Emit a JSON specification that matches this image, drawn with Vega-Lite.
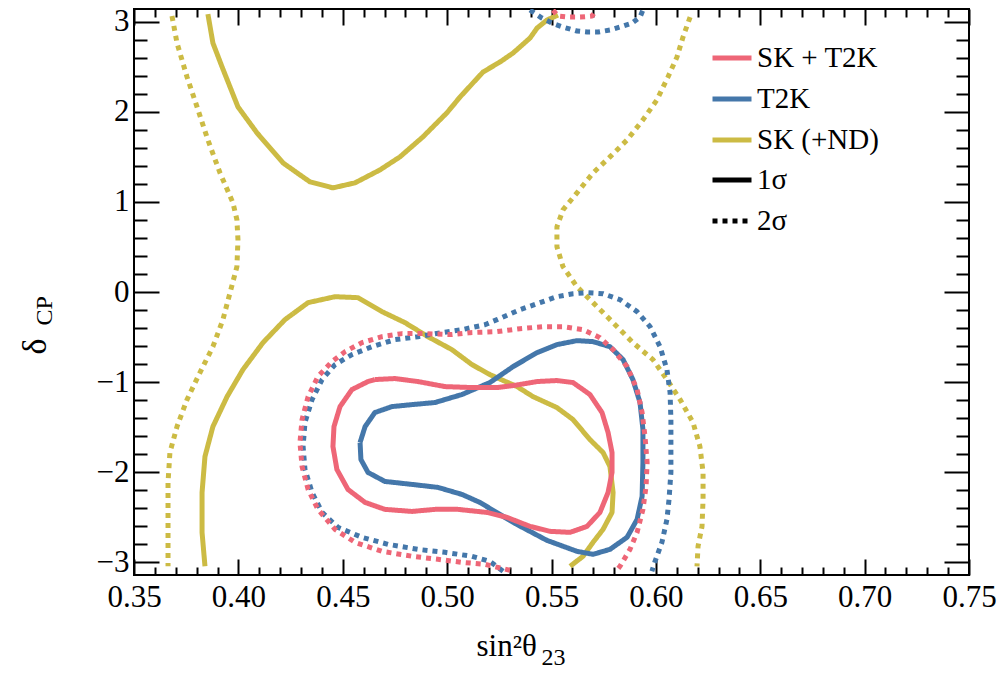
{
"$schema": "https://vega.github.io/schema/vega-lite/v6.json",
"width": 835, "height": 566,
"autosize": "none",
"padding": {"left": 134, "top": 9, "right": 33, "bottom": 101},
"background": "white",
"config": {
  "font": "Liberation Serif",
  "view": {"stroke": "black", "strokeWidth": 2},
  "axis": {"domain": false, "grid": false, "tickColor": "black", "tickWidth": 2, "labelColor": "black", "labelFont": "Liberation Serif", "labelFontSize": 31, "titleFont": "Liberation Serif", "titleFontWeight": "normal", "titleColor": "black", "labelOverlap": false, "labelFlush": false},
  "legend": {"padding": 0, "titleFontSize": 0, "labelFont": "Liberation Serif", "labelFontSize": 29, "labelColor": "black", "symbolType": "stroke", "symbolStrokeWidth": 5, "symbolSize": 1521, "rowPadding": 4, "labelOffset": 3}
},
"data": {"values": [
{"e":"SK (+ND)","s":"2σ","p":"g2a","i":0,"x":0.3682,"y":3.063},
{"e":"SK (+ND)","s":"2σ","p":"g2a","i":1,"x":0.3706,"y":2.764},
{"e":"SK (+ND)","s":"2σ","p":"g2a","i":2,"x":0.3754,"y":2.387},
{"e":"SK (+ND)","s":"2σ","p":"g2a","i":3,"x":0.3802,"y":2.055},
{"e":"SK (+ND)","s":"2σ","p":"g2a","i":4,"x":0.3854,"y":1.688},
{"e":"SK (+ND)","s":"2σ","p":"g2a","i":5,"x":0.3912,"y":1.322},
{"e":"SK (+ND)","s":"2σ","p":"g2a","i":6,"x":0.3974,"y":0.990},
{"e":"SK (+ND)","s":"2σ","p":"g2a","i":7,"x":0.3993,"y":0.802},
{"e":"SK (+ND)","s":"2σ","p":"g2a","i":8,"x":0.3998,"y":0.580},
{"e":"SK (+ND)","s":"2σ","p":"g2a","i":9,"x":0.3993,"y":0.281},
{"e":"SK (+ND)","s":"2σ","p":"g2a","i":10,"x":0.3960,"y":-0.008},
{"e":"SK (+ND)","s":"2σ","p":"g2a","i":11,"x":0.3926,"y":-0.307},
{"e":"SK (+ND)","s":"2σ","p":"g2a","i":12,"x":0.3878,"y":-0.607},
{"e":"SK (+ND)","s":"2σ","p":"g2a","i":13,"x":0.3816,"y":-0.895},
{"e":"SK (+ND)","s":"2σ","p":"g2a","i":14,"x":0.3754,"y":-1.194},
{"e":"SK (+ND)","s":"2σ","p":"g2a","i":15,"x":0.3706,"y":-1.494},
{"e":"SK (+ND)","s":"2σ","p":"g2a","i":16,"x":0.3672,"y":-1.782},
{"e":"SK (+ND)","s":"2σ","p":"g2a","i":17,"x":0.3663,"y":-2.114},
{"e":"SK (+ND)","s":"2σ","p":"g2a","i":18,"x":0.3663,"y":-2.447},
{"e":"SK (+ND)","s":"2σ","p":"g2a","i":19,"x":0.3663,"y":-2.746},
{"e":"SK (+ND)","s":"2σ","p":"g2a","i":20,"x":0.3663,"y":-3.045},
{"e":"SK (+ND)","s":"2σ","p":"g2b","i":0,"x":0.6164,"y":3.052},
{"e":"SK (+ND)","s":"2σ","p":"g2b","i":1,"x":0.6130,"y":2.830},
{"e":"SK (+ND)","s":"2σ","p":"g2b","i":2,"x":0.6101,"y":2.608},
{"e":"SK (+ND)","s":"2σ","p":"g2b","i":3,"x":0.6058,"y":2.387},
{"e":"SK (+ND)","s":"2σ","p":"g2b","i":4,"x":0.6005,"y":2.132},
{"e":"SK (+ND)","s":"2σ","p":"g2b","i":5,"x":0.5938,"y":1.911},
{"e":"SK (+ND)","s":"2σ","p":"g2b","i":6,"x":0.5862,"y":1.688},
{"e":"SK (+ND)","s":"2σ","p":"g2b","i":7,"x":0.5780,"y":1.500},
{"e":"SK (+ND)","s":"2σ","p":"g2b","i":8,"x":0.5699,"y":1.322},
{"e":"SK (+ND)","s":"2σ","p":"g2b","i":9,"x":0.5622,"y":1.101},
{"e":"SK (+ND)","s":"2σ","p":"g2b","i":10,"x":0.5555,"y":0.912},
{"e":"SK (+ND)","s":"2σ","p":"g2b","i":11,"x":0.5526,"y":0.724},
{"e":"SK (+ND)","s":"2σ","p":"g2b","i":12,"x":0.5526,"y":0.502},
{"e":"SK (+ND)","s":"2σ","p":"g2b","i":13,"x":0.5555,"y":0.281},
{"e":"SK (+ND)","s":"2σ","p":"g2b","i":14,"x":0.5622,"y":0.059},
{"e":"SK (+ND)","s":"2σ","p":"g2b","i":15,"x":0.5699,"y":-0.118},
{"e":"SK (+ND)","s":"2σ","p":"g2b","i":16,"x":0.5795,"y":-0.340},
{"e":"SK (+ND)","s":"2σ","p":"g2b","i":17,"x":0.5890,"y":-0.562},
{"e":"SK (+ND)","s":"2σ","p":"g2b","i":18,"x":0.5986,"y":-0.751},
{"e":"SK (+ND)","s":"2σ","p":"g2b","i":19,"x":0.6053,"y":-0.972},
{"e":"SK (+ND)","s":"2σ","p":"g2b","i":20,"x":0.6116,"y":-1.194},
{"e":"SK (+ND)","s":"2σ","p":"g2b","i":21,"x":0.6178,"y":-1.449},
{"e":"SK (+ND)","s":"2σ","p":"g2b","i":22,"x":0.6211,"y":-1.715},
{"e":"SK (+ND)","s":"2σ","p":"g2b","i":23,"x":0.6226,"y":-2.003},
{"e":"SK (+ND)","s":"2σ","p":"g2b","i":24,"x":0.6226,"y":-2.303},
{"e":"SK (+ND)","s":"2σ","p":"g2b","i":25,"x":0.6221,"y":-2.602},
{"e":"SK (+ND)","s":"2σ","p":"g2b","i":26,"x":0.6202,"y":-2.823},
{"e":"SK (+ND)","s":"2σ","p":"g2b","i":27,"x":0.6197,"y":-3.045},
{"e":"SK (+ND)","s":"1σ","p":"g1a","i":0,"x":0.3854,"y":3.085},
{"e":"SK (+ND)","s":"1σ","p":"g1a","i":1,"x":0.3878,"y":2.764},
{"e":"SK (+ND)","s":"1σ","p":"g1a","i":2,"x":0.3922,"y":2.498},
{"e":"SK (+ND)","s":"1σ","p":"g1a","i":3,"x":0.3998,"y":2.055},
{"e":"SK (+ND)","s":"1σ","p":"g1a","i":4,"x":0.4089,"y":1.767},
{"e":"SK (+ND)","s":"1σ","p":"g1a","i":5,"x":0.4214,"y":1.433},
{"e":"SK (+ND)","s":"1σ","p":"g1a","i":6,"x":0.4295,"y":1.300},
{"e":"SK (+ND)","s":"1σ","p":"g1a","i":7,"x":0.4343,"y":1.223},
{"e":"SK (+ND)","s":"1σ","p":"g1a","i":8,"x":0.4453,"y":1.156},
{"e":"SK (+ND)","s":"1σ","p":"g1a","i":9,"x":0.4559,"y":1.212},
{"e":"SK (+ND)","s":"1σ","p":"g1a","i":10,"x":0.4678,"y":1.355},
{"e":"SK (+ND)","s":"1σ","p":"g1a","i":11,"x":0.4774,"y":1.500},
{"e":"SK (+ND)","s":"1σ","p":"g1a","i":12,"x":0.4884,"y":1.722},
{"e":"SK (+ND)","s":"1σ","p":"g1a","i":13,"x":0.4999,"y":1.989},
{"e":"SK (+ND)","s":"1σ","p":"g1a","i":14,"x":0.5062,"y":2.165},
{"e":"SK (+ND)","s":"1σ","p":"g1a","i":15,"x":0.5172,"y":2.442},
{"e":"SK (+ND)","s":"1σ","p":"g1a","i":16,"x":0.5253,"y":2.553},
{"e":"SK (+ND)","s":"1σ","p":"g1a","i":17,"x":0.5316,"y":2.653},
{"e":"SK (+ND)","s":"1σ","p":"g1a","i":18,"x":0.5397,"y":2.819},
{"e":"SK (+ND)","s":"1σ","p":"g1a","i":19,"x":0.5431,"y":2.930},
{"e":"SK (+ND)","s":"1σ","p":"g1a","i":20,"x":0.5478,"y":3.019},
{"e":"SK (+ND)","s":"1σ","p":"g1a","i":21,"x":0.5531,"y":3.074},
{"e":"SK (+ND)","s":"1σ","p":"g1b","i":0,"x":0.3840,"y":-3.045},
{"e":"SK (+ND)","s":"1σ","p":"g1b","i":1,"x":0.3826,"y":-2.668},
{"e":"SK (+ND)","s":"1σ","p":"g1b","i":2,"x":0.3826,"y":-2.225},
{"e":"SK (+ND)","s":"1σ","p":"g1b","i":3,"x":0.3840,"y":-1.826},
{"e":"SK (+ND)","s":"1σ","p":"g1b","i":4,"x":0.3878,"y":-1.494},
{"e":"SK (+ND)","s":"1σ","p":"g1b","i":5,"x":0.3946,"y":-1.161},
{"e":"SK (+ND)","s":"1σ","p":"g1b","i":6,"x":0.4022,"y":-0.861},
{"e":"SK (+ND)","s":"1σ","p":"g1b","i":7,"x":0.4118,"y":-0.562},
{"e":"SK (+ND)","s":"1σ","p":"g1b","i":8,"x":0.4223,"y":-0.307},
{"e":"SK (+ND)","s":"1σ","p":"g1b","i":9,"x":0.4334,"y":-0.118},
{"e":"SK (+ND)","s":"1σ","p":"g1b","i":10,"x":0.4463,"y":-0.052},
{"e":"SK (+ND)","s":"1σ","p":"g1b","i":11,"x":0.4573,"y":-0.063},
{"e":"SK (+ND)","s":"1σ","p":"g1b","i":12,"x":0.4688,"y":-0.218},
{"e":"SK (+ND)","s":"1σ","p":"g1b","i":13,"x":0.4798,"y":-0.340},
{"e":"SK (+ND)","s":"1σ","p":"g1b","i":14,"x":0.4908,"y":-0.496},
{"e":"SK (+ND)","s":"1σ","p":"g1b","i":15,"x":0.5023,"y":-0.640},
{"e":"SK (+ND)","s":"1σ","p":"g1b","i":16,"x":0.5119,"y":-0.806},
{"e":"SK (+ND)","s":"1σ","p":"g1b","i":17,"x":0.5205,"y":-0.917},
{"e":"SK (+ND)","s":"1σ","p":"g1b","i":18,"x":0.5335,"y":-1.050},
{"e":"SK (+ND)","s":"1σ","p":"g1b","i":19,"x":0.5411,"y":-1.161},
{"e":"SK (+ND)","s":"1σ","p":"g1b","i":20,"x":0.5526,"y":-1.283},
{"e":"SK (+ND)","s":"1σ","p":"g1b","i":21,"x":0.5603,"y":-1.416},
{"e":"SK (+ND)","s":"1σ","p":"g1b","i":22,"x":0.5684,"y":-1.638},
{"e":"SK (+ND)","s":"1σ","p":"g1b","i":23,"x":0.5747,"y":-1.782},
{"e":"SK (+ND)","s":"1σ","p":"g1b","i":24,"x":0.5780,"y":-1.937},
{"e":"SK (+ND)","s":"1σ","p":"g1b","i":25,"x":0.5795,"y":-2.225},
{"e":"SK (+ND)","s":"1σ","p":"g1b","i":26,"x":0.5790,"y":-2.447},
{"e":"SK (+ND)","s":"1σ","p":"g1b","i":27,"x":0.5747,"y":-2.635},
{"e":"SK (+ND)","s":"1σ","p":"g1b","i":28,"x":0.5699,"y":-2.779},
{"e":"SK (+ND)","s":"1σ","p":"g1b","i":29,"x":0.5651,"y":-2.934},
{"e":"SK (+ND)","s":"1σ","p":"g1b","i":30,"x":0.5589,"y":-3.045},
{"e":"T2K","s":"2σ","p":"b2a","i":0,"x":0.5268,"y":-3.100},
{"e":"T2K","s":"2σ","p":"b2a","i":1,"x":0.5205,"y":-2.990},
{"e":"T2K","s":"2σ","p":"b2a","i":2,"x":0.5119,"y":-2.934},
{"e":"T2K","s":"2σ","p":"b2a","i":3,"x":0.4990,"y":-2.890},
{"e":"T2K","s":"2σ","p":"b2a","i":4,"x":0.4860,"y":-2.857},
{"e":"T2K","s":"2σ","p":"b2a","i":5,"x":0.4717,"y":-2.801},
{"e":"T2K","s":"2σ","p":"b2a","i":6,"x":0.4592,"y":-2.723},
{"e":"T2K","s":"2σ","p":"b2a","i":7,"x":0.4477,"y":-2.613},
{"e":"T2K","s":"2σ","p":"b2a","i":8,"x":0.4401,"y":-2.447},
{"e":"T2K","s":"2σ","p":"b2a","i":9,"x":0.4353,"y":-2.225},
{"e":"T2K","s":"2σ","p":"b2a","i":10,"x":0.4319,"y":-1.970},
{"e":"T2K","s":"2σ","p":"b2a","i":11,"x":0.4310,"y":-1.715},
{"e":"T2K","s":"2σ","p":"b2a","i":12,"x":0.4319,"y":-1.449},
{"e":"T2K","s":"2σ","p":"b2a","i":13,"x":0.4353,"y":-1.194},
{"e":"T2K","s":"2σ","p":"b2a","i":14,"x":0.4401,"y":-0.972},
{"e":"T2K","s":"2σ","p":"b2a","i":15,"x":0.4463,"y":-0.806},
{"e":"T2K","s":"2σ","p":"b2a","i":16,"x":0.4544,"y":-0.695},
{"e":"T2K","s":"2σ","p":"b2a","i":17,"x":0.4640,"y":-0.607},
{"e":"T2K","s":"2σ","p":"b2a","i":18,"x":0.4750,"y":-0.529},
{"e":"T2K","s":"2σ","p":"b2a","i":19,"x":0.4860,"y":-0.496},
{"e":"T2K","s":"2σ","p":"b2a","i":20,"x":0.4975,"y":-0.451},
{"e":"T2K","s":"2σ","p":"b2a","i":21,"x":0.5071,"y":-0.418},
{"e":"T2K","s":"2σ","p":"b2a","i":22,"x":0.5181,"y":-0.363},
{"e":"T2K","s":"2σ","p":"b2a","i":23,"x":0.5239,"y":-0.307},
{"e":"T2K","s":"2σ","p":"b2a","i":24,"x":0.5349,"y":-0.196},
{"e":"T2K","s":"2σ","p":"b2a","i":25,"x":0.5445,"y":-0.118},
{"e":"T2K","s":"2σ","p":"b2a","i":26,"x":0.5526,"y":-0.052},
{"e":"T2K","s":"2σ","p":"b2a","i":27,"x":0.5603,"y":-0.019},
{"e":"T2K","s":"2σ","p":"b2a","i":28,"x":0.5670,"y":-0.008},
{"e":"T2K","s":"2σ","p":"b2a","i":29,"x":0.5747,"y":-0.019},
{"e":"T2K","s":"2σ","p":"b2a","i":30,"x":0.5828,"y":-0.085},
{"e":"T2K","s":"2σ","p":"b2a","i":31,"x":0.5910,"y":-0.218},
{"e":"T2K","s":"2σ","p":"b2a","i":32,"x":0.5972,"y":-0.385},
{"e":"T2K","s":"2σ","p":"b2a","i":33,"x":0.6020,"y":-0.607},
{"e":"T2K","s":"2σ","p":"b2a","i":34,"x":0.6053,"y":-0.861},
{"e":"T2K","s":"2σ","p":"b2a","i":35,"x":0.6068,"y":-1.116},
{"e":"T2K","s":"2σ","p":"b2a","i":36,"x":0.6072,"y":-1.416},
{"e":"T2K","s":"2σ","p":"b2a","i":37,"x":0.6072,"y":-1.715},
{"e":"T2K","s":"2σ","p":"b2a","i":38,"x":0.6072,"y":-2.003},
{"e":"T2K","s":"2σ","p":"b2a","i":39,"x":0.6063,"y":-2.303},
{"e":"T2K","s":"2σ","p":"b2a","i":40,"x":0.6053,"y":-2.524},
{"e":"T2K","s":"2σ","p":"b2a","i":41,"x":0.6029,"y":-2.779},
{"e":"T2K","s":"2σ","p":"b2a","i":42,"x":0.5996,"y":-2.990},
{"e":"T2K","s":"2σ","p":"b2a","i":43,"x":0.5981,"y":-3.100},
{"e":"T2K","s":"2σ","p":"b2b","i":0,"x":0.5397,"y":3.130},
{"e":"T2K","s":"2σ","p":"b2b","i":1,"x":0.5454,"y":3.041},
{"e":"T2K","s":"2σ","p":"b2b","i":2,"x":0.5502,"y":2.985},
{"e":"T2K","s":"2σ","p":"b2b","i":3,"x":0.5555,"y":2.941},
{"e":"T2K","s":"2σ","p":"b2b","i":4,"x":0.5622,"y":2.897},
{"e":"T2K","s":"2σ","p":"b2b","i":5,"x":0.5670,"y":2.886},
{"e":"T2K","s":"2σ","p":"b2b","i":6,"x":0.5723,"y":2.886},
{"e":"T2K","s":"2σ","p":"b2b","i":7,"x":0.5780,"y":2.908},
{"e":"T2K","s":"2σ","p":"b2b","i":8,"x":0.5828,"y":2.941},
{"e":"T2K","s":"2σ","p":"b2b","i":9,"x":0.5886,"y":2.985},
{"e":"T2K","s":"2σ","p":"b2b","i":10,"x":0.5924,"y":3.052},
{"e":"T2K","s":"2σ","p":"b2b","i":11,"x":0.5938,"y":3.130},
{"e":"T2K","s":"1σ","p":"b1","i":0,"x":0.4583,"y":-1.671},
{"e":"T2K","s":"1σ","p":"b1","i":1,"x":0.4607,"y":-1.494},
{"e":"T2K","s":"1σ","p":"b1","i":2,"x":0.4654,"y":-1.338},
{"e":"T2K","s":"1σ","p":"b1","i":3,"x":0.4736,"y":-1.272},
{"e":"T2K","s":"1σ","p":"b1","i":4,"x":0.4832,"y":-1.250},
{"e":"T2K","s":"1σ","p":"b1","i":5,"x":0.4942,"y":-1.227},
{"e":"T2K","s":"1σ","p":"b1","i":6,"x":0.5071,"y":-1.138},
{"e":"T2K","s":"1σ","p":"b1","i":7,"x":0.5205,"y":-1.005},
{"e":"T2K","s":"1σ","p":"b1","i":8,"x":0.5316,"y":-0.828},
{"e":"T2K","s":"1σ","p":"b1","i":9,"x":0.5431,"y":-0.673},
{"e":"T2K","s":"1σ","p":"b1","i":10,"x":0.5526,"y":-0.584},
{"e":"T2K","s":"1σ","p":"b1","i":11,"x":0.5622,"y":-0.540},
{"e":"T2K","s":"1σ","p":"b1","i":12,"x":0.5699,"y":-0.551},
{"e":"T2K","s":"1σ","p":"b1","i":13,"x":0.5780,"y":-0.607},
{"e":"T2K","s":"1σ","p":"b1","i":14,"x":0.5843,"y":-0.751},
{"e":"T2K","s":"1σ","p":"b1","i":15,"x":0.5890,"y":-0.972},
{"e":"T2K","s":"1σ","p":"b1","i":16,"x":0.5924,"y":-1.227},
{"e":"T2K","s":"1σ","p":"b1","i":17,"x":0.5938,"y":-1.527},
{"e":"T2K","s":"1σ","p":"b1","i":18,"x":0.5938,"y":-1.893},
{"e":"T2K","s":"1σ","p":"b1","i":19,"x":0.5934,"y":-2.269},
{"e":"T2K","s":"1σ","p":"b1","i":20,"x":0.5910,"y":-2.524},
{"e":"T2K","s":"1σ","p":"b1","i":21,"x":0.5862,"y":-2.723},
{"e":"T2K","s":"1σ","p":"b1","i":22,"x":0.5780,"y":-2.857},
{"e":"T2K","s":"1σ","p":"b1","i":23,"x":0.5699,"y":-2.912},
{"e":"T2K","s":"1σ","p":"b1","i":24,"x":0.5622,"y":-2.879},
{"e":"T2K","s":"1σ","p":"b1","i":25,"x":0.5478,"y":-2.757},
{"e":"T2K","s":"1σ","p":"b1","i":26,"x":0.5325,"y":-2.569},
{"e":"T2K","s":"1σ","p":"b1","i":27,"x":0.5157,"y":-2.336},
{"e":"T2K","s":"1σ","p":"b1","i":28,"x":0.5071,"y":-2.247},
{"e":"T2K","s":"1σ","p":"b1","i":29,"x":0.4956,"y":-2.169},
{"e":"T2K","s":"1σ","p":"b1","i":30,"x":0.4832,"y":-2.136},
{"e":"T2K","s":"1σ","p":"b1","i":31,"x":0.4702,"y":-2.103},
{"e":"T2K","s":"1σ","p":"b1","i":32,"x":0.4621,"y":-2.003},
{"e":"T2K","s":"1σ","p":"b1","i":33,"x":0.4587,"y":-1.859},
{"e":"T2K","s":"1σ","p":"b1","i":34,"x":0.4583,"y":-1.671},
{"e":"SK + T2K","s":"2σ","p":"p2a","i":0,"x":0.5301,"y":-3.090},
{"e":"SK + T2K","s":"2σ","p":"p2a","i":1,"x":0.5181,"y":-3.023},
{"e":"SK + T2K","s":"2σ","p":"p2a","i":2,"x":0.5071,"y":-3.001},
{"e":"SK + T2K","s":"2σ","p":"p2a","i":3,"x":0.4956,"y":-2.967},
{"e":"SK + T2K","s":"2σ","p":"p2a","i":4,"x":0.4832,"y":-2.934},
{"e":"SK + T2K","s":"2σ","p":"p2a","i":5,"x":0.4688,"y":-2.879},
{"e":"SK + T2K","s":"2σ","p":"p2a","i":6,"x":0.4559,"y":-2.779},
{"e":"SK + T2K","s":"2σ","p":"p2a","i":7,"x":0.4463,"y":-2.635},
{"e":"SK + T2K","s":"2σ","p":"p2a","i":8,"x":0.4381,"y":-2.413},
{"e":"SK + T2K","s":"2σ","p":"p2a","i":9,"x":0.4334,"y":-2.192},
{"e":"SK + T2K","s":"2σ","p":"p2a","i":10,"x":0.4305,"y":-1.937},
{"e":"SK + T2K","s":"2σ","p":"p2a","i":11,"x":0.4295,"y":-1.671},
{"e":"SK + T2K","s":"2σ","p":"p2a","i":12,"x":0.4305,"y":-1.416},
{"e":"SK + T2K","s":"2σ","p":"p2a","i":13,"x":0.4334,"y":-1.161},
{"e":"SK + T2K","s":"2σ","p":"p2a","i":14,"x":0.4381,"y":-0.939},
{"e":"SK + T2K","s":"2σ","p":"p2a","i":15,"x":0.4448,"y":-0.773},
{"e":"SK + T2K","s":"2σ","p":"p2a","i":16,"x":0.4511,"y":-0.662},
{"e":"SK + T2K","s":"2σ","p":"p2a","i":17,"x":0.4592,"y":-0.562},
{"e":"SK + T2K","s":"2σ","p":"p2a","i":18,"x":0.4688,"y":-0.496},
{"e":"SK + T2K","s":"2σ","p":"p2a","i":19,"x":0.4784,"y":-0.462},
{"e":"SK + T2K","s":"2σ","p":"p2a","i":20,"x":0.4894,"y":-0.462},
{"e":"SK + T2K","s":"2σ","p":"p2a","i":21,"x":0.5023,"y":-0.473},
{"e":"SK + T2K","s":"2σ","p":"p2a","i":22,"x":0.5110,"y":-0.451},
{"e":"SK + T2K","s":"2σ","p":"p2a","i":23,"x":0.5239,"y":-0.440},
{"e":"SK + T2K","s":"2σ","p":"p2a","i":24,"x":0.5349,"y":-0.407},
{"e":"SK + T2K","s":"2σ","p":"p2a","i":25,"x":0.5459,"y":-0.385},
{"e":"SK + T2K","s":"2σ","p":"p2a","i":26,"x":0.5555,"y":-0.385},
{"e":"SK + T2K","s":"2σ","p":"p2a","i":27,"x":0.5651,"y":-0.418},
{"e":"SK + T2K","s":"2σ","p":"p2a","i":28,"x":0.5732,"y":-0.507},
{"e":"SK + T2K","s":"2σ","p":"p2a","i":29,"x":0.5795,"y":-0.640},
{"e":"SK + T2K","s":"2σ","p":"p2a","i":30,"x":0.5862,"y":-0.828},
{"e":"SK + T2K","s":"2σ","p":"p2a","i":31,"x":0.5910,"y":-1.083},
{"e":"SK + T2K","s":"2σ","p":"p2a","i":32,"x":0.5934,"y":-1.338},
{"e":"SK + T2K","s":"2σ","p":"p2a","i":33,"x":0.5948,"y":-1.604},
{"e":"SK + T2K","s":"2σ","p":"p2a","i":34,"x":0.5958,"y":-1.893},
{"e":"SK + T2K","s":"2σ","p":"p2a","i":35,"x":0.5953,"y":-2.158},
{"e":"SK + T2K","s":"2σ","p":"p2a","i":36,"x":0.5938,"y":-2.413},
{"e":"SK + T2K","s":"2σ","p":"p2a","i":37,"x":0.5910,"y":-2.668},
{"e":"SK + T2K","s":"2σ","p":"p2a","i":38,"x":0.5876,"y":-2.857},
{"e":"SK + T2K","s":"2σ","p":"p2a","i":39,"x":0.5828,"y":-3.045},
{"e":"SK + T2K","s":"2σ","p":"p2a","i":40,"x":0.5809,"y":-3.100},
{"e":"SK + T2K","s":"2σ","p":"p2b","i":0,"x":0.5507,"y":3.130},
{"e":"SK + T2K","s":"2σ","p":"p2b","i":1,"x":0.5531,"y":3.063},
{"e":"SK + T2K","s":"2σ","p":"p2b","i":2,"x":0.5579,"y":3.052},
{"e":"SK + T2K","s":"2σ","p":"p2b","i":3,"x":0.5637,"y":3.052},
{"e":"SK + T2K","s":"2σ","p":"p2b","i":4,"x":0.5694,"y":3.063},
{"e":"SK + T2K","s":"2σ","p":"p2b","i":5,"x":0.5713,"y":3.130},
{"e":"SK + T2K","s":"1σ","p":"p1","i":0,"x":0.4654,"y":-0.972},
{"e":"SK + T2K","s":"1σ","p":"p1","i":1,"x":0.4750,"y":-0.961},
{"e":"SK + T2K","s":"1σ","p":"p1","i":2,"x":0.4860,"y":-0.994},
{"e":"SK + T2K","s":"1σ","p":"p1","i":3,"x":0.4990,"y":-1.050},
{"e":"SK + T2K","s":"1σ","p":"p1","i":4,"x":0.5119,"y":-1.061},
{"e":"SK + T2K","s":"1σ","p":"p1","i":5,"x":0.5239,"y":-1.061},
{"e":"SK + T2K","s":"1σ","p":"p1","i":6,"x":0.5316,"y":-1.039},
{"e":"SK + T2K","s":"1σ","p":"p1","i":7,"x":0.5431,"y":-0.994},
{"e":"SK + T2K","s":"1σ","p":"p1","i":8,"x":0.5526,"y":-0.983},
{"e":"SK + T2K","s":"1σ","p":"p1","i":9,"x":0.5603,"y":-1.005},
{"e":"SK + T2K","s":"1σ","p":"p1","i":10,"x":0.5684,"y":-1.138},
{"e":"SK + T2K","s":"1σ","p":"p1","i":11,"x":0.5742,"y":-1.338},
{"e":"SK + T2K","s":"1σ","p":"p1","i":12,"x":0.5771,"y":-1.560},
{"e":"SK + T2K","s":"1σ","p":"p1","i":13,"x":0.5790,"y":-1.782},
{"e":"SK + T2K","s":"1σ","p":"p1","i":14,"x":0.5790,"y":-2.003},
{"e":"SK + T2K","s":"1σ","p":"p1","i":15,"x":0.5771,"y":-2.225},
{"e":"SK + T2K","s":"1σ","p":"p1","i":16,"x":0.5732,"y":-2.447},
{"e":"SK + T2K","s":"1σ","p":"p1","i":17,"x":0.5670,"y":-2.602},
{"e":"SK + T2K","s":"1σ","p":"p1","i":18,"x":0.5589,"y":-2.668},
{"e":"SK + T2K","s":"1σ","p":"p1","i":19,"x":0.5493,"y":-2.657},
{"e":"SK + T2K","s":"1σ","p":"p1","i":20,"x":0.5397,"y":-2.602},
{"e":"SK + T2K","s":"1σ","p":"p1","i":21,"x":0.5287,"y":-2.502},
{"e":"SK + T2K","s":"1σ","p":"p1","i":22,"x":0.5191,"y":-2.447},
{"e":"SK + T2K","s":"1σ","p":"p1","i":23,"x":0.5052,"y":-2.413},
{"e":"SK + T2K","s":"1σ","p":"p1","i":24,"x":0.4942,"y":-2.413},
{"e":"SK + T2K","s":"1σ","p":"p1","i":25,"x":0.4832,"y":-2.436},
{"e":"SK + T2K","s":"1σ","p":"p1","i":26,"x":0.4702,"y":-2.413},
{"e":"SK + T2K","s":"1σ","p":"p1","i":27,"x":0.4607,"y":-2.336},
{"e":"SK + T2K","s":"1σ","p":"p1","i":28,"x":0.4525,"y":-2.192},
{"e":"SK + T2K","s":"1σ","p":"p1","i":29,"x":0.4472,"y":-1.970},
{"e":"SK + T2K","s":"1σ","p":"p1","i":30,"x":0.4453,"y":-1.715},
{"e":"SK + T2K","s":"1σ","p":"p1","i":31,"x":0.4458,"y":-1.494},
{"e":"SK + T2K","s":"1σ","p":"p1","i":32,"x":0.4487,"y":-1.272},
{"e":"SK + T2K","s":"1σ","p":"p1","i":33,"x":0.4544,"y":-1.083},
{"e":"SK + T2K","s":"1σ","p":"p1","i":34,"x":0.4621,"y":-0.994},
{"e":"SK + T2K","s":"1σ","p":"p1","i":35,"x":0.4654,"y":-0.972}
]},
"layer": [
  {
    "mark": {"type": "line", "strokeWidth": 5, "strokeCap": "butt", "strokeJoin": "round", "clip": true},
    "encoding": {
      "x": {"field": "x", "type": "quantitative", "scale": {"domain": [0.35, 0.75], "nice": false, "zero": false},
        "axis": {"orient": "bottom",
          "values": [0.35,0.36,0.37,0.38,0.39,0.4,0.41,0.42,0.43,0.44,0.45,0.46,0.47,0.48,0.49,0.5,0.51,0.52,0.53,0.54,0.55,0.56,0.57,0.58,0.59,0.6,0.61,0.62,0.63,0.64,0.65,0.66,0.67,0.68,0.69,0.7,0.71,0.72,0.73,0.74,0.75],
          "tickSize": {"condition": {"test": "abs(datum.value*20-round(datum.value*20))<0.01", "value": -16}, "value": -8},
          "labelExpr": "abs(datum.value*20-round(datum.value*20))<0.01 ? format(datum.value, '.2f') : ''",
          "labelPadding": 23,
          "title": "sin²θ", "titleFontSize": 31, "titleX": 342, "titleY": 80, "titleAlign": "left", "titleBaseline": "alphabetic", "titleAngle": 0}},
      "y": {"field": "y", "type": "quantitative", "scale": {"domain": [-3.14159, 3.14159], "nice": false, "zero": false},
        "axis": {"orient": "left",
          "values": [-3,-2.8,-2.6,-2.4,-2.2,-2,-1.8,-1.6,-1.4,-1.2,-1,-0.8,-0.6,-0.4,-0.2,0,0.2,0.4,0.6,0.8,1,1.2,1.4,1.6,1.8,2,2.2,2.4,2.6,2.8,3],
          "tickSize": {"condition": {"test": "abs(datum.value-round(datum.value))<0.01", "value": -25}, "value": -13},
          "labelExpr": "abs(datum.value-round(datum.value))<0.01 ? format(round(datum.value), 'd') : ''",
          "labelPadding": 30,
          "title": "δ", "titleFontSize": 34, "titleX": -89, "titleY": 345, "titleAlign": "left", "titleBaseline": "alphabetic", "titleAngle": -90}},
      "color": {"field": "e", "type": "nominal",
        "scale": {"domain": ["SK + T2K", "T2K", "SK (+ND)"], "range": ["#EE6677", "#4477AA", "#CCBB44"]},
        "legend": {"orient": "none", "legendX": 576, "legendY": 27, "title": null}},
      "strokeDash": {"field": "s", "type": "nominal",
        "scale": {"domain": ["1σ", "2σ"], "range": [[1, 0], [5, 5]]},
        "legend": {"orient": "none", "legendX": 576, "legendY": 149, "title": null, "symbolStrokeColor": "black"}},
      "detail": {"field": "p"},
      "order": {"field": "i", "type": "quantitative"}
    }
  },
  {
    "mark": {"type": "point", "opacity": 0},
    "encoding": {
      "x": {"field": "x", "type": "quantitative",
        "axis": {"orient": "top", "labels": false,
          "values": [0.35,0.36,0.37,0.38,0.39,0.4,0.41,0.42,0.43,0.44,0.45,0.46,0.47,0.48,0.49,0.5,0.51,0.52,0.53,0.54,0.55,0.56,0.57,0.58,0.59,0.6,0.61,0.62,0.63,0.64,0.65,0.66,0.67,0.68,0.69,0.7,0.71,0.72,0.73,0.74,0.75],
          "tickSize": {"condition": {"test": "abs(datum.value*20-round(datum.value*20))<0.01", "value": -16}, "value": -8},
          "title": "23", "titleFontSize": 24, "titleX": 407, "titleY": 655, "titleAlign": "left", "titleBaseline": "alphabetic", "titleAngle": 0}},
      "y": {"field": "y", "type": "quantitative",
        "axis": {"orient": "right", "labels": false,
          "values": [-3,-2.8,-2.6,-2.4,-2.2,-2,-1.8,-1.6,-1.4,-1.2,-1,-0.8,-0.6,-0.4,-0.2,0,0.2,0.4,0.6,0.8,1,1.2,1.4,1.6,1.8,2,2.2,2.4,2.6,2.8,3],
          "tickSize": {"condition": {"test": "abs(datum.value-round(datum.value))<0.01", "value": -25}, "value": -13},
          "title": "CP", "titleFontSize": 24, "titleX": -918, "titleY": 316, "titleAlign": "left", "titleBaseline": "alphabetic", "titleAngle": -90}}
    }
  }
],
"resolve": {"axis": {"x": "independent", "y": "independent"}}
}
